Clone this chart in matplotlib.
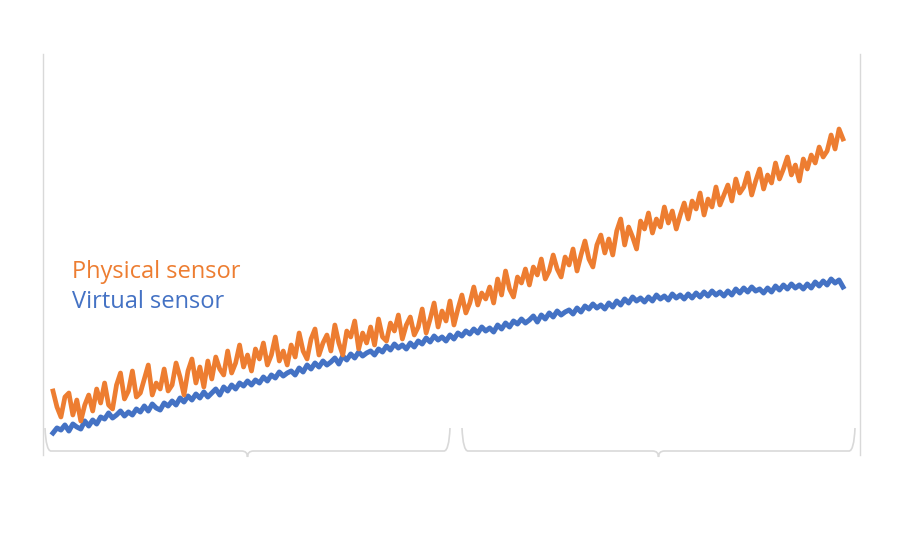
import matplotlib
matplotlib.use("Agg")
import matplotlib.pyplot as plt
from matplotlib.path import Path
from matplotlib.patches import PathPatch
import numpy as np

# ---- data (arbitrary units) ----
physical = [
    64, 48, 38, 58, 62, 40, 55, 34, 50, 60,
    44, 66, 52, 72, 50, 46, 70, 82, 56, 64,
    84, 58, 62, 76, 90, 60, 72, 66, 86, 64,
    70, 92, 78, 60, 84, 96, 72, 88, 68, 94,
    76, 98, 86, 80, 104, 82, 92, 110, 88, 100,
    84, 106, 96, 112, 90, 100, 118, 94, 104, 90,
    110, 98, 122, 104, 96, 116, 126, 100, 112, 120,
    104, 130, 112, 100, 124, 118, 134, 106, 122, 112,
    128, 110, 136, 118, 114, 132, 124, 140, 116, 130,
    138, 120, 128, 146, 122, 136, 152, 128, 144, 134,
    154, 130, 146, 160, 142, 152, 168, 150, 162, 156,
    168, 152, 176, 160, 184, 166, 158, 178, 172, 186,
    170, 188, 180, 196, 176, 184, 200, 186, 178, 198,
    190, 206, 184, 200, 214, 196, 188, 210, 220, 202,
    216, 200, 224, 236, 210, 228, 218, 206, 234, 226,
    242, 222, 236, 228, 248, 232, 244, 226, 240, 252,
    236, 254, 246, 262, 240, 256, 248, 268, 250, 260,
    270, 254, 276, 262, 268, 282, 260, 274, 286, 266,
    280, 272, 292, 276, 286, 298, 280, 290, 274, 296,
    286, 300, 292, 308, 298, 304, 320, 306, 326, 316,
]
virtual = [
    22, 27, 25, 30, 24, 31, 28, 26, 34, 29,
    35, 31, 38, 36, 42, 37, 40, 44, 39, 43,
    40, 46, 43, 49, 44, 51, 47, 45, 52, 49,
    54, 50, 57, 53, 59, 55, 61, 57, 63, 58,
    62, 66, 60, 68, 64, 70, 66, 72, 69, 74,
    70, 75, 72, 78, 74, 80, 77, 83, 79, 82,
    84, 80, 87, 83, 90, 86, 92, 88, 94, 90,
    93, 97, 91, 99, 95, 101, 97, 103, 99, 102,
    104, 100, 106, 103, 109, 105, 111, 107, 110, 106,
    112, 108, 114, 111, 117, 113, 119, 115, 118, 114,
    120, 116, 122, 119, 124, 121, 126, 122, 128, 124,
    127, 123, 130, 126, 132, 128, 134, 131, 136, 132,
    135, 139, 133, 140, 136, 142, 138, 144, 140, 143,
    145, 141, 147, 143, 149, 146, 151, 147, 150, 146,
    152, 148, 154, 150, 156, 152, 158, 154, 157, 153,
    158, 154, 160, 156, 159, 155, 161, 157, 160, 156,
    161, 157, 162, 158, 163, 159, 164, 160, 163, 159,
    164, 160, 166, 162, 167, 163, 168, 164, 166, 162,
    167, 163, 169, 165, 170, 166, 171, 167, 170, 166,
    171, 167, 173, 169, 174, 170, 176, 172, 175, 168,
]
labels = ["Physical sensor", "Virtual sensor"]

ORANGE = "#ED7D31"
BLUE = "#4472C4"
GRAY = "#d9d9d9"

W, H = 900, 550
fig = plt.figure(figsize=(9, 5.5), dpi=100)

def fx(px):
    return px / W

def fy(py):
    return (H - py) / H

ax = fig.add_axes([fx(43), fy(455), fx(860) - fx(43), fy(54) - fy(455)])
x = np.arange(len(physical))
ax.plot(x, virtual, color=BLUE, lw=3.6, solid_joinstyle="round", zorder=2)
ax.plot(x, physical, color=ORANGE, lw=3.4, solid_joinstyle="round", zorder=3)

n = len(physical) - 1
upp = n / 790.0
ax.set_xlim(0 - 10 * upp, n + 17 * upp)
ax.set_ylim(0, 401)
ax.set_xticks([])
ax.set_yticks([])
for s in ["top", "bottom"]:
    ax.spines[s].set_visible(False)
for s in ["left", "right"]:
    ax.spines[s].set_color(GRAY)
    ax.spines[s].set_linewidth(1.0)

# curly braces below the plot
def brace(x0, x1, ybase, ytop, ytip):
    mid = (x0 + x1) / 2
    r = 6
    verts = [
        (x0, ytop), (x0 + 1, ybase), (x0 + r, ybase),
        (mid - r, ybase), (mid, ybase), (mid, ytip),
        (mid, ybase), (mid + r, ybase),
        (x1 - r, ybase), (x1 - 1, ybase), (x1, ytop),
    ]
    codes = [Path.MOVETO, Path.CURVE3, Path.CURVE3,
             Path.LINETO, Path.CURVE3, Path.CURVE3,
             Path.CURVE3, Path.CURVE3,
             Path.LINETO, Path.CURVE3, Path.CURVE3]
    v = [(fx(a), fy(b)) for a, b in verts]
    p = PathPatch(Path(v, codes), fill=False, edgecolor=GRAY, lw=1.2,
                  transform=fig.transFigure, clip_on=False)
    fig.add_artist(p)

brace(45, 450, 451, 428, 457)
brace(462, 855, 451, 428, 457)

fig.text(fx(72), fy(278), labels[0], color=ORANGE, fontsize=17,
         family=["Open Sans", "DejaVu Sans"], va="baseline", ha="left")
fig.text(fx(72), fy(308), labels[1], color=BLUE, fontsize=17,
         family=["Open Sans", "DejaVu Sans"], va="baseline", ha="left")

fig.savefig("out.png", dpi=100, facecolor="white")
